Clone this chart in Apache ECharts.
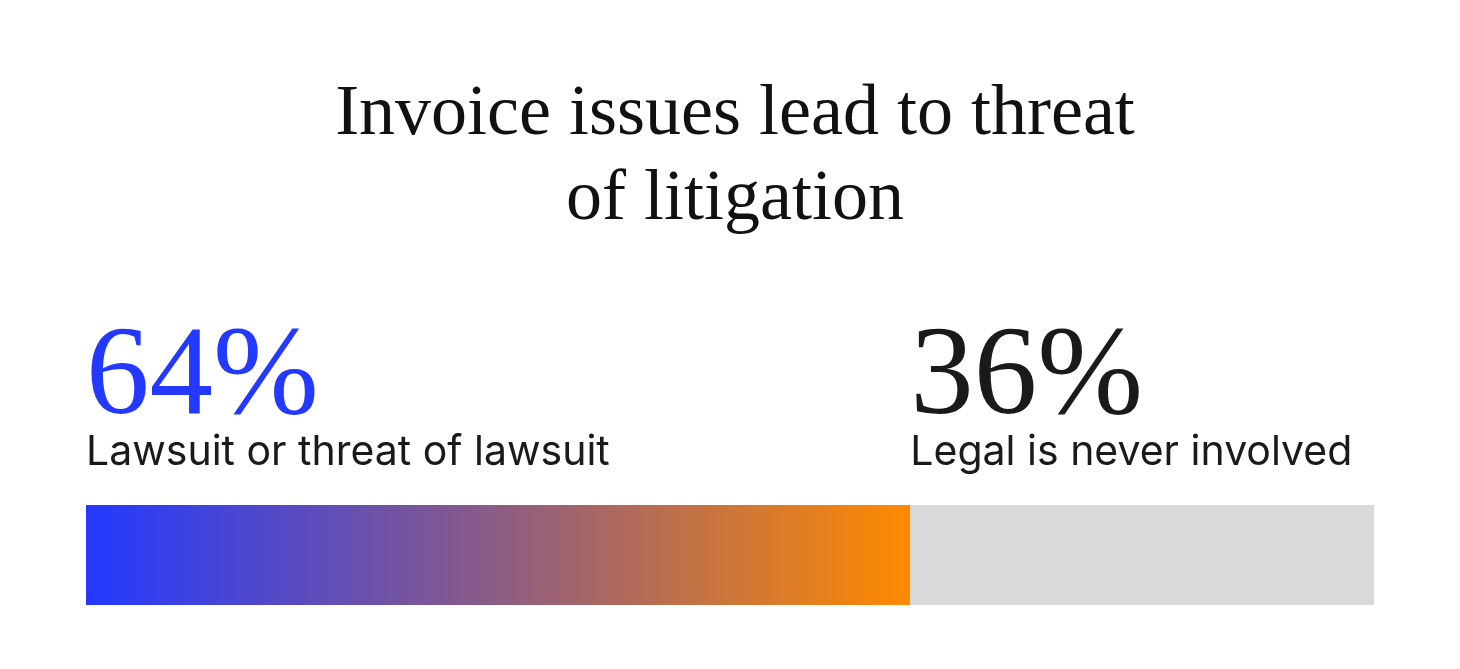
<!DOCTYPE html>
<html>
<head>
<meta charset="utf-8">
<script src="https://cdn.jsdelivr.net/npm/echarts@6/dist/echarts.min.js"></script>
<style>
  html, body { margin: 0; padding: 0; background: #fff; }
  #chart { width: 1460px; height: 669px; }
</style>
</head>
<body>
<div id="chart"></div>
<script>
const titleText = "Invoice issues lead to threat\nof litigation";
const categories = ["Legal involvement"];
const shareNames = ["Lawsuit or threat of lawsuit", "Legal is never involved"];
const shareValues = [64, 36];

const chart = echarts.init(document.getElementById("chart"));

function makeLabel(color) {
  return {
    show: true,
    position: [0, -35],
    align: "left",
    verticalAlign: "bottom",
    formatter: function (p) {
      return "{big|" + p.value + "%}\n{small|" + p.seriesName + "}";
    },
    rich: {
      big: {
        fontFamily: "Liberation Serif",
        fontSize: 127,
        lineHeight: 112,
        color: color
      },
      small: {
        fontFamily: "Inter",
        fontSize: 41,
        lineHeight: 34,
        color: "#1a1a1a"
      }
    }
  };
}

const option = {
  backgroundColor: "#fff",
  title: {
    text: titleText,
    left: 730,
    top: 68,
    textAlign: "center",
    textStyle: {
      fontFamily: "Liberation Serif",
      fontWeight: "normal",
      fontSize: 72,
      lineHeight: 85,
      color: "#111"
    }
  },
  grid: { left: 86, right: 86, top: 505, height: 100 },
  xAxis: { type: "value", min: 0, max: 100, show: false },
  yAxis: { type: "category", data: categories, show: false },
  series: [
    {
      name: shareNames[0],
      type: "bar",
      stack: "total",
      barWidth: 100,
      data: [shareValues[0]],
      itemStyle: {
        color: new echarts.graphic.LinearGradient(0, 0, 1, 0, [
          { offset: 0, color: "#2339ff" },
          { offset: 0.5, color: "#8c5c84" },
          { offset: 1, color: "#ff8a00" }
        ])
      },
      label: makeLabel("#2339ff"),
      silent: true
    },
    {
      name: shareNames[1],
      type: "bar",
      stack: "total",
      barWidth: 100,
      data: [shareValues[1]],
      itemStyle: { color: "#d9d9d9" },
      label: makeLabel("#1a1a1a"),
      silent: true
    }
  ],
  animation: false
};

chart.setOption(option);
</script>
</body>
</html>
